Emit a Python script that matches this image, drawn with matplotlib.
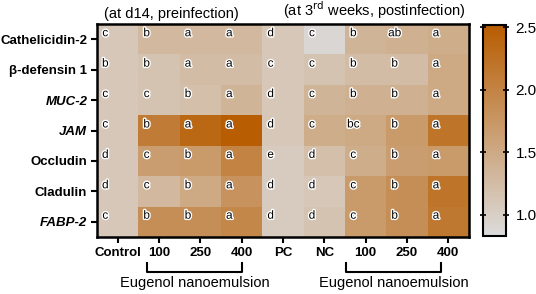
import numpy as np
import matplotlib.pyplot as plt
import matplotlib.patheffects as pe
from matplotlib.colors import LinearSegmentedColormap

plt.rcParams['font.family'] = ['Liberation Sans', 'DejaVu Sans']

genes = ['Cathelicidin-2', 'β-defensin 1', 'MUC-2', 'JAM', 'Occludin', 'Cladulin', 'FABP-2']
italic_genes = ['MUC-2', 'JAM', 'FABP-2']
groups = ['Control', '100', '250', '400', 'PC', 'NC', '100', '250', '400']

values = np.array([
    [1.10, 1.30, 1.30, 1.30, 1.10, 0.90, 1.35, 1.40, 1.45],
    [1.10, 1.15, 1.25, 1.25, 1.10, 1.15, 1.25, 1.25, 1.50],
    [1.10, 1.15, 1.20, 1.35, 1.10, 1.35, 1.40, 1.40, 1.50],
    [1.10, 2.10, 2.35, 2.50, 1.10, 1.45, 1.50, 1.70, 2.20],
    [1.10, 1.65, 1.70, 2.00, 1.05, 1.20, 1.45, 1.65, 1.70],
    [1.10, 1.30, 1.50, 1.80, 1.05, 1.10, 1.70, 1.85, 2.20],
    [1.10, 1.85, 1.85, 1.95, 1.05, 1.15, 1.70, 1.85, 2.15],
])

letters = [
    ['c', 'b', 'a', 'a', 'd', 'c', 'b', 'ab', 'a'],
    ['b', 'b', 'a', 'a', 'c', 'c', 'b', 'b', 'a'],
    ['c', 'c', 'b', 'a', 'd', 'c', 'b', 'b', 'a'],
    ['c', 'b', 'a', 'a', 'd', 'c', 'bc', 'b', 'a'],
    ['d', 'c', 'b', 'a', 'e', 'd', 'c', 'b', 'a'],
    ['d', 'c', 'b', 'a', 'd', 'd', 'c', 'b', 'a'],
    ['c', 'b', 'b', 'a', 'd', 'd', 'c', 'b', 'a'],
]

cmap = LinearSegmentedColormap.from_list('gb', ['#dcdcdc', '#b85c00'])

fig = plt.figure(figsize=(5.36, 2.94), dpi=100)
ax = fig.add_axes([0.181, 0.194, 0.694, 0.724])
im = ax.imshow(values, cmap=cmap, vmin=0.83, vmax=2.52, aspect='auto')

stroke = [pe.withStroke(linewidth=2, foreground='white')]
for i in range(len(genes)):
    for j in range(len(groups)):
        ax.text(j - 0.3, i - 0.2, letters[i][j], ha='center', va='center',
                fontsize=8.5, color='black', path_effects=stroke)

ax.set_xticks(range(len(groups)))
ax.set_xticklabels(groups, fontsize=9.5, fontweight='bold')
ax.set_yticks(range(len(genes)))
ax.set_yticklabels(genes, fontsize=9.5, fontweight='bold')
for lab in ax.get_yticklabels():
    if lab.get_text() in italic_genes:
        lab.set_fontstyle('italic')
ax.tick_params(width=1.5, length=4, color='black', pad=3)
for s in ax.spines.values():
    s.set_linewidth(1.8)

ax.text(1.3, -0.6, '(at d14, preinfection)', ha='center', va='bottom', fontsize=10.5)
ax.text(6.2, -0.6, r'(at 3$^{\mathrm{rd}}$ weeks, postinfection)', ha='center', va='bottom', fontsize=10.5)

# brackets under the nanoemulsion columns
for x0, x1 in [(0.71, 3.01), (5.52, 7.82)]:
    ax.plot([x0, x0, x1, x1], [7.35, 7.65, 7.65, 7.35], color='black', lw=1.5,
            clip_on=False)
    ax.text((x0 + x1) / 2, 7.8, 'Eugenol nanoemulsion', ha='center', va='top', fontsize=10.5)

ax.set_xlim(-0.5, len(groups) - 0.5)
ax.set_ylim(len(genes) - 0.5, -0.5)

cax = fig.add_axes([0.901, 0.197, 0.043, 0.718])
cb = fig.colorbar(im, cax=cax, ticks=[1.0, 1.5, 2.0, 2.5])
cb.ax.set_yticklabels(['1.0', '1.5', '2.0', '2.5'], fontsize=11)
cb.ax.tick_params(direction='inout', length=4, width=1.2, left=True, right=True, pad=5)
cb.outline.set_linewidth(1.5)

fig.savefig('out.png', dpi=100)
